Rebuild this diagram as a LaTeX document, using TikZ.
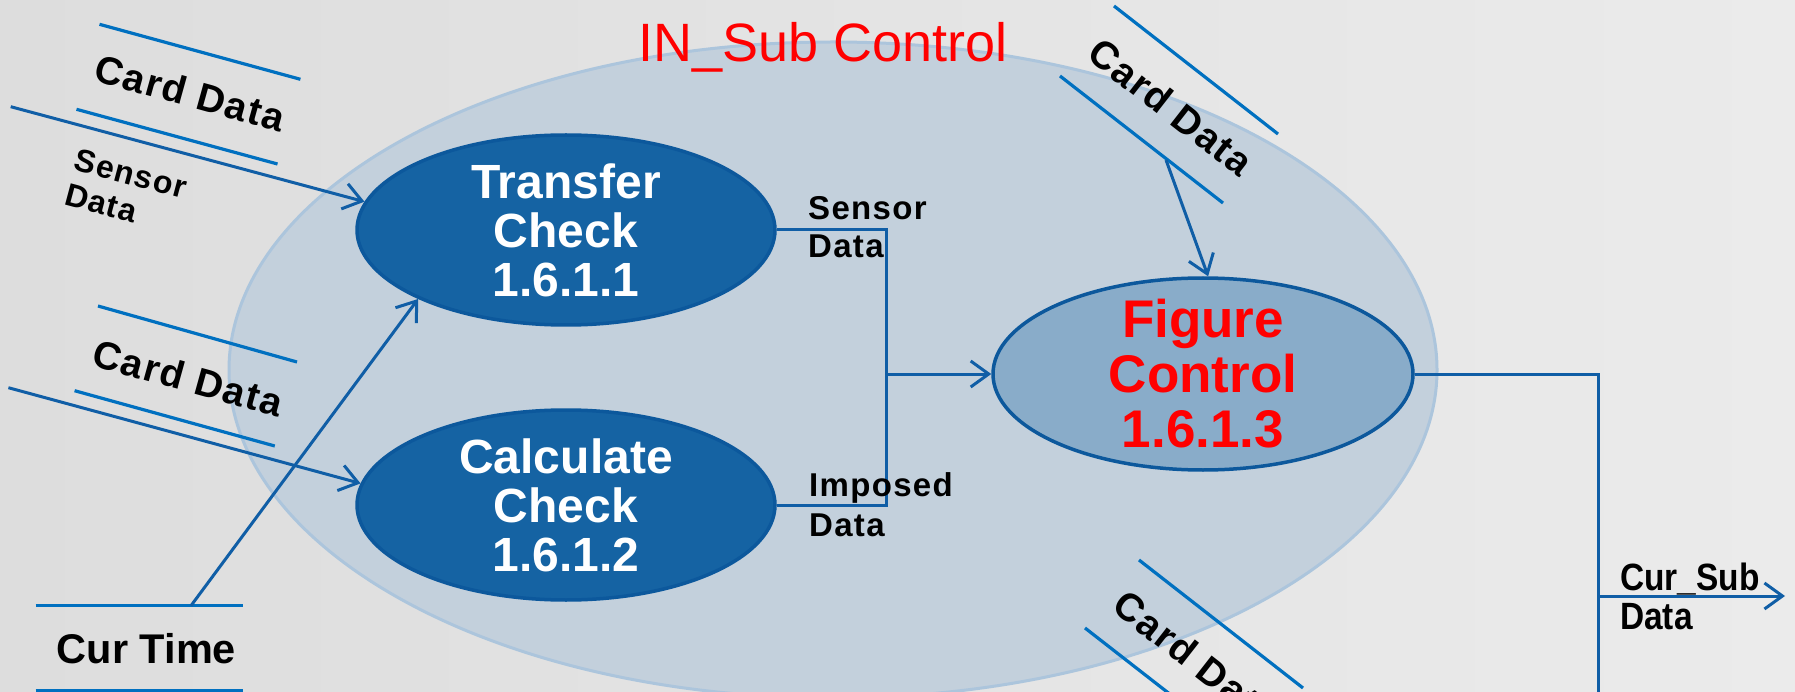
\documentclass[tikz,border=0pt]{standalone}
\usepackage{fontspec}
\setmainfont{Liberation Sans}
\newfontfamily\spacedfont[LetterSpace=4]{Liberation Sans}
\newfontfamily\narrowfont[FakeStretch=0.88]{Liberation Sans}
\usetikzlibrary{shapes.geometric,arrows.meta}
\definecolor{bgL}{RGB}{221,221,221}
\definecolor{bgR}{RGB}{235,235,235}
\definecolor{subfill}{RGB}{195,208,220}
\definecolor{subdraw}{RGB}{172,197,220}
\definecolor{procfill}{RGB}{21,99,163}
\definecolor{procdraw}{RGB}{12,88,156}
\definecolor{figfill}{RGB}{137,172,201}
\definecolor{storeblue}{RGB}{0,112,192}
\definecolor{flowblue}{RGB}{16,94,166}
\definecolor{titlered}{RGB}{255,0,0}
\begin{document}
\begin{tikzpicture}[x=1pt,y=-1pt,
  procshape/.style={ellipse, draw=procdraw, line width=3.5pt, fill=procfill,
    minimum width=418pt, minimum height=190pt, inner sep=0pt},
  figshape/.style={ellipse, draw=procdraw, line width=3.5pt, fill=figfill,
    minimum width=420pt, minimum height=192pt, inner sep=0pt},
  proctext/.style={text=white, align=center, inner sep=0pt,
    font=\bfseries\fontsize{48}{49}\selectfont},
  figtext/.style={text=titlered, align=center, inner sep=0pt,
    font=\bfseries\fontsize{53}{55}\selectfont},
  storeline/.style={draw=storeblue, line width=3.2pt},
  flowline/.style={draw=flowblue, line width=3pt},
  flow/.style={flowline, -{Straight Barb[length=18pt,width=26pt]}},
  storelabel/.style={inner sep=0pt, text=black,
    font=\spacedfont\bfseries\fontsize{39}{42}\selectfont},
  flowlabel/.style={inner sep=0pt, text=black, align=left,
    font=\spacedfont\bfseries\fontsize{33}{38}\selectfont},
]
\clip (0,0) rectangle (1795,692);
\shade[left color=bgL, right color=bgR] (0,0) rectangle (1795,692);

% outer process bubble
\node[ellipse, draw=subdraw, line width=3pt, fill=subfill,
  minimum width=1208pt, minimum height=656pt, inner sep=0pt] (sub) at (833,370) {};
\node[anchor=base, text=titlered, inner sep=0pt,
  font=\fontsize{54}{60}\selectfont] (title) at (823,62) {IN\_Sub Control};

% process bubbles
\node[procshape] (t1) at (566,230) {};
\node[procshape] (t2) at (566,505) {};
\node[figshape]  (t3) at (1203,374) {};
\node[proctext] (t1text) at (t1.center) {Transfer\\Check\\1.6.1.1};
\node[proctext] (t2text) at (t2.center) {Calculate\\Check\\1.6.1.2};
\node[figtext]  (t3text) at (t3.center) {Figure\\Control\\1.6.1.3};

% data stores (left)
\draw[storeline] (99.5,24.3) -- (300.4,79.3);
\draw[storeline] (76.5,109.3) -- (277.5,164);
\node[storelabel, rotate=-15.5] (cd1) at (190,93) {Card Data};
\draw[storeline] (98,306) -- (297,362);
\draw[storeline] (74.6,390.7) -- (274.8,446);
\node[storelabel, rotate=-15.5] (cd2) at (188,378) {Card Data};

% data stores (right)
\draw[storeline] (1114,6) -- (1278,134);
\draw[storeline] (1060,76) -- (1223,203);
\node[storelabel, rotate=-38] (cd3) at (1171,107) {Card Data};
\draw[storeline] (1139,560) -- (1303,688);
\draw[storeline] (1085,628) -- (1248,755);
\node[storelabel, rotate=-38] (cd4) at (1196,659) {Card Data};

% Cur Time store
\draw[storeline] (35.6,605.7) -- (243.4,605.7);
\draw[storeline] (35.6,690.5) -- (243.4,690.5);
\node[anchor=base, inner sep=0pt, font=\bfseries\fontsize{41.5}{44}\selectfont]
  (curtime) at (146.5,663) {Cur Time};

% flows into the bubbles
\coordinate (srcA) at (10.7,106.7);
\coordinate (srcB) at (8.4,387.7);
\coordinate (srcT) at (191,605.7);
\coordinate (srcR) at (1166,160);
\draw[flow] (srcA) -- (t1.172);
\draw[flow] (srcB) -- (t2.174);
\draw[flow] (srcT) -- (t1.205);
\draw[flow] (srcR) -- (t3.87);

% internal flows
\coordinate (j1) at (886,230);
\coordinate (j2) at (886,505);
\coordinate (jm) at (886,374);
\draw[flowline] (t1.east) -- (j1) -- (j2) -- (t2.east);
\draw[flow] (jm) -- (t3.west);

% output flow
\coordinate (k1) at (1598,374);
\coordinate (k2) at (1598,700);
\coordinate (k3) at (1598,596);
\coordinate (out) at (1785,596);
\draw[flowline] (t3.east) -- (k1) -- (k2);
\draw[flow] (k3) -- (out);

% flow labels
\node[flowlabel, rotate=-15, font=\spacedfont\bfseries\fontsize{32}{36}\selectfont]
  (lsens) at (126,191) {Sensor\\Data};
\node[flowlabel, anchor=north west] (lsd) at (808,196) {Sensor\\Data};
\node[flowlabel, anchor=north west, font=\spacedfont\bfseries\fontsize{33}{40}\selectfont]
  (lid) at (809,472) {Imposed\\Data};
\node[inner sep=0pt, anchor=north west, align=left,
  font=\narrowfont\bfseries\fontsize{38}{39}\selectfont] (lcs) at (1620,563) {Cur\_Sub\\Data};
\end{tikzpicture}
\end{document}
